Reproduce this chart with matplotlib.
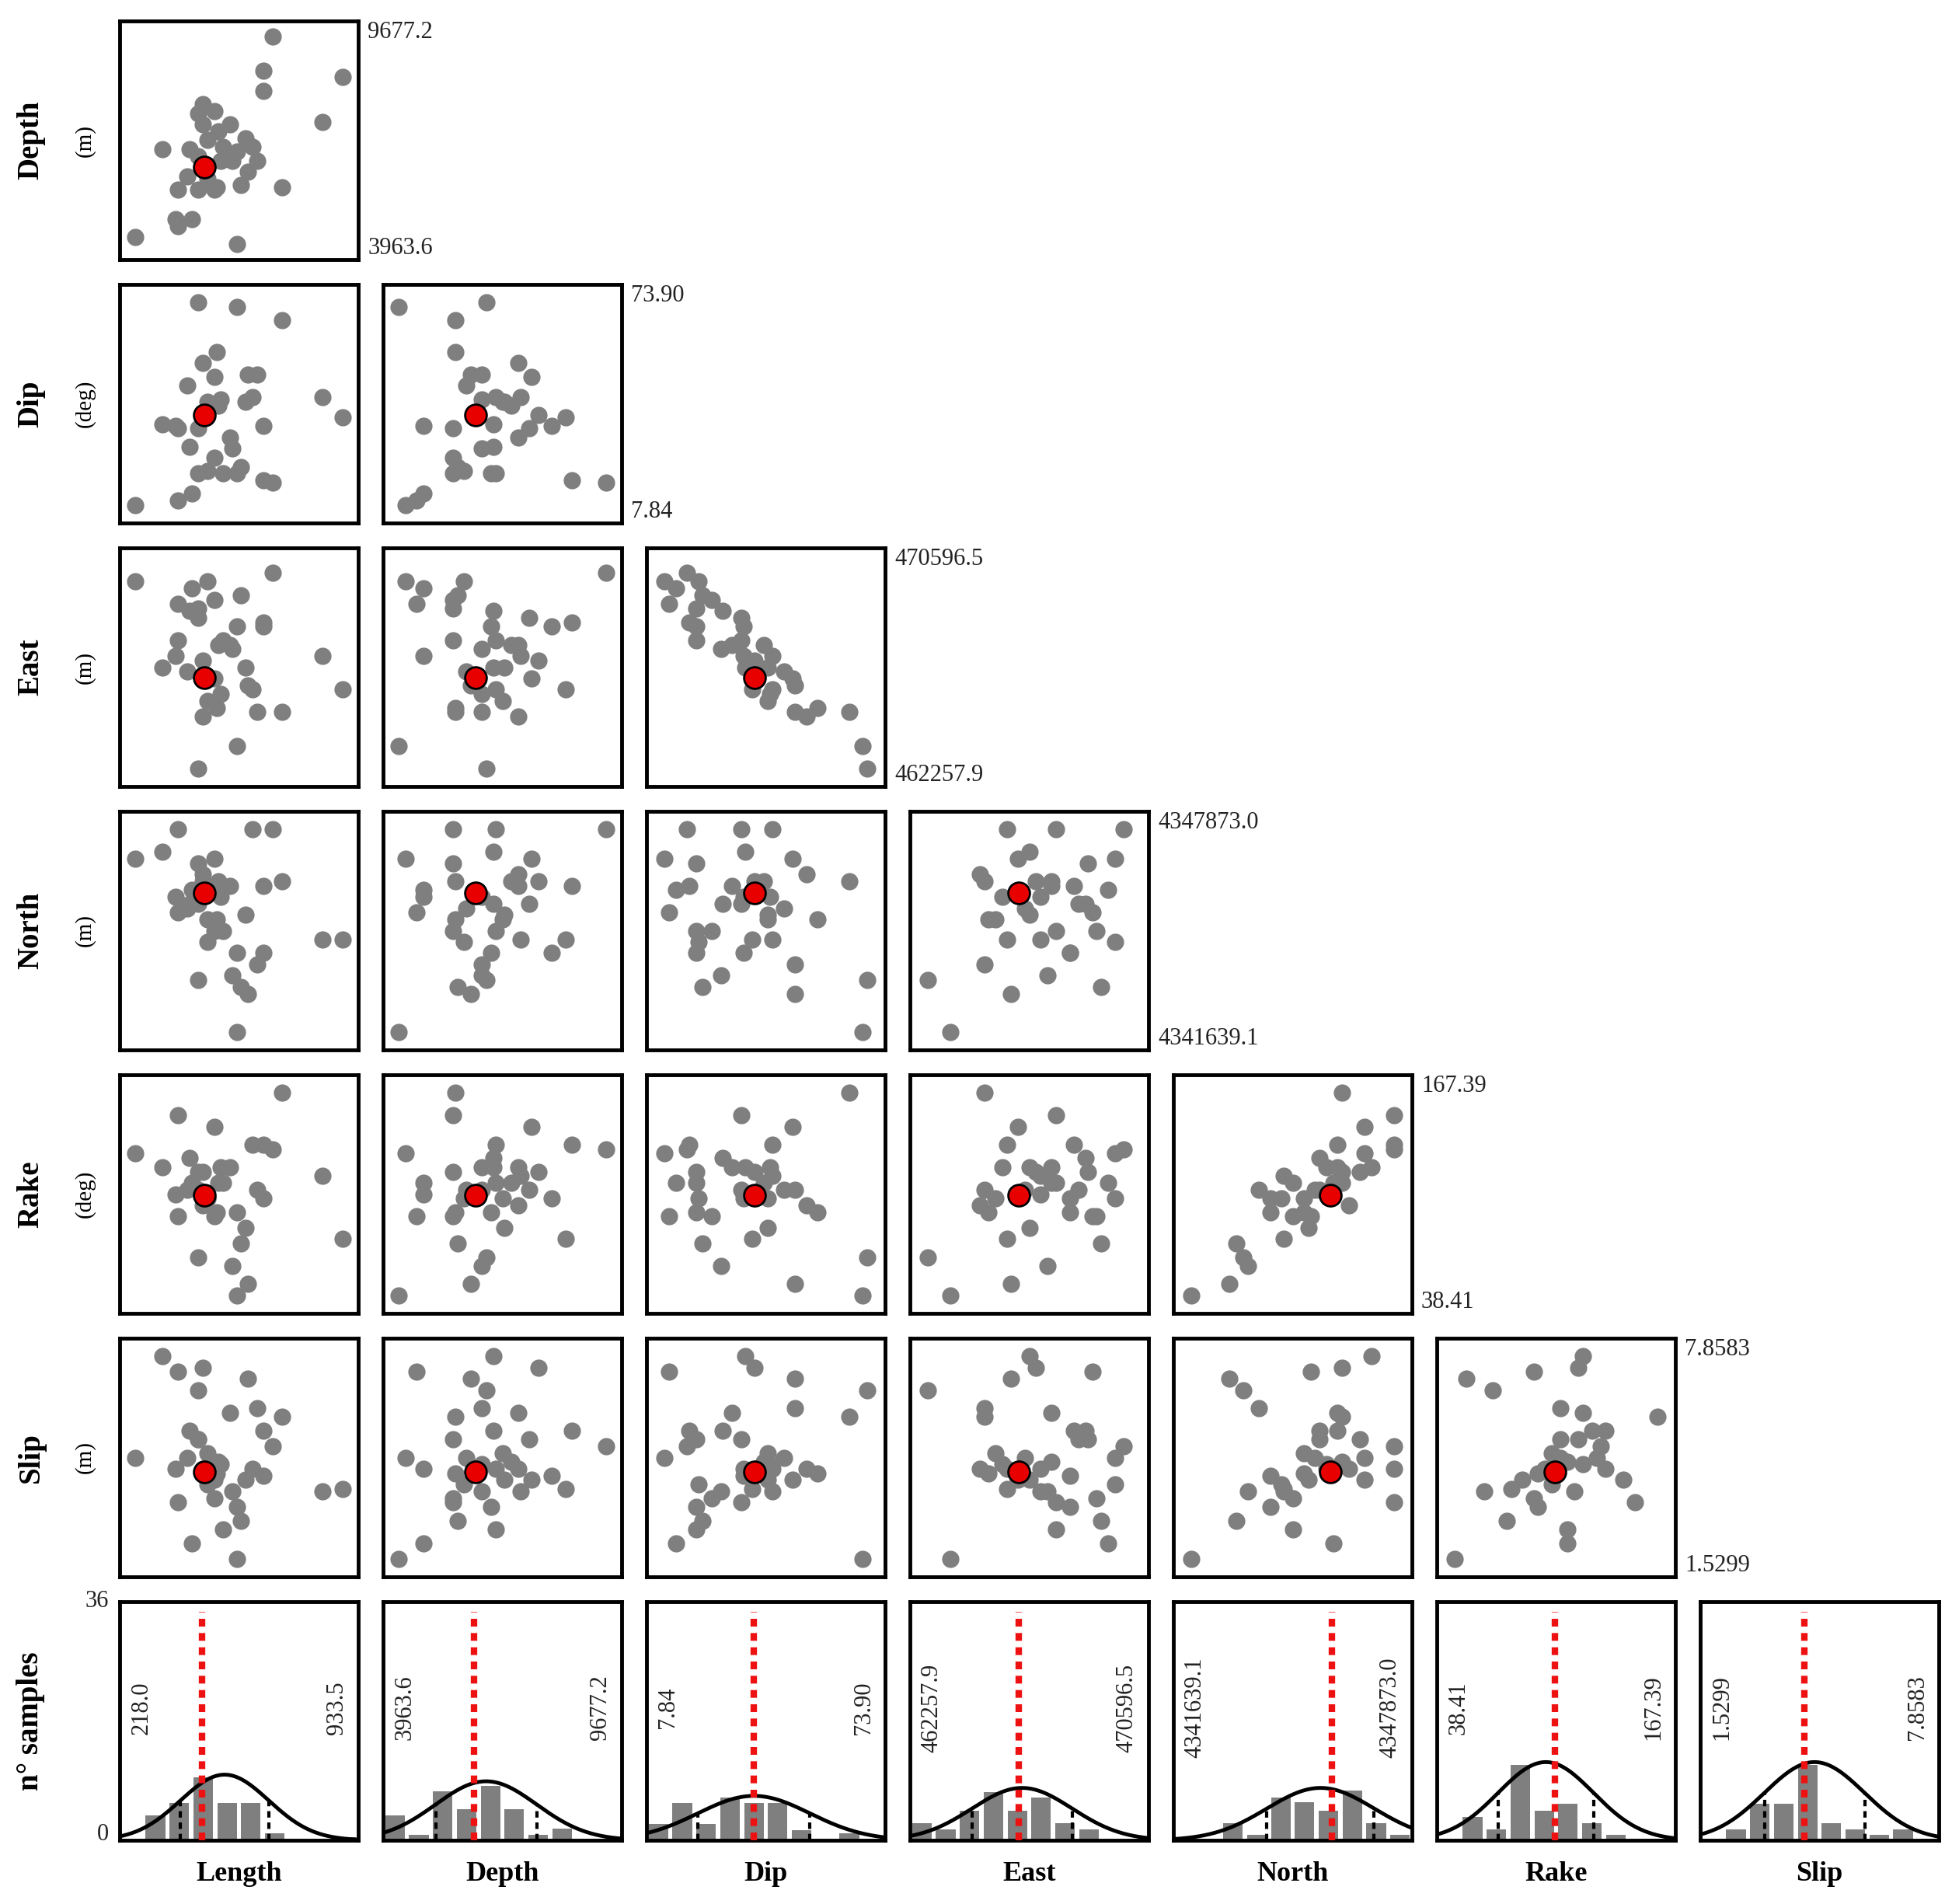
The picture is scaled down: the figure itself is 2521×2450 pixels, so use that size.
import numpy as np
import matplotlib
matplotlib.use("Agg")
import matplotlib.pyplot as plt

plt.rcParams['font.family'] = ['Liberation Serif', 'DejaVu Serif']

names = ["Length", "Depth", "Dip", "East", "North", "Rake", "Slip"]
units = ["", "(m)", "(deg)", "(m)", "(m)", "(deg)", "(m)"]
lo = [218.0, 3963.6, 7.84, 462257.9, 4341639.1, 38.41, 1.5299]
hi = [933.5, 9677.2, 73.90, 470596.5, 4347873.0, 167.39, 7.8583]
lo_lbl = ["218.0", "3963.6", "7.84", "462257.9", "4341639.1", "38.41", "1.5299"]
hi_lbl = ["933.5", "9677.2", "73.90", "470596.5", "4347873.0", "167.39", "7.8583"]

# sample positions, read as fraction of each parameter's range
length_f = [.65,.61,.61,.96,.87,.16,.32,.34,.39,.41,.36,.46,.53,.49,.58,.54,.51,.42,.23,.32,.40,.36,.69,.22,.29,.23,.04,.49,.47,.28,.43,.32,.56,.39,.27,.34]
depth_f = [.96,.81,.72,.78,.58,.46,.62,.57,.63,.54,.50,.57,.51,.45,.41,.36,.30,.41,.28,.28,.29,.33,.29,.15,.15,.12,.07,.04,.41,.46,.47,.43,.47,.28,.34,.66]
dip_f = [.15,.16,.40,.44,.53,.41,.39,.68,.62,.49,.51,.35,.51,.19,.63,.63,.22,.52,.39,.19,.73,.20,.87,.40,.10,.07,.05,.93,.30,.31,.19,.95,.53,.26,.58,.45]
east_f = [.92,.70,.68,.40,.55,.50,.72,.28,.45,.60,.35,.60,.50,.68,.30,.42,.82,.38,.62,.76,.32,.88,.30,.55,.85,.78,.88,.15,.58,.75,.62,.05,.40,.80,.48,.53]
north_f = [.95,.70,.40,.46,.46,.85,.62,.75,.82,.72,.55,.70,.57,.40,.35,.22,.25,.65,.95,.80,.55,.45,.72,.65,.68,.58,.82,.05,.30,.62,.50,.28,.95,.50,.60,.72]
rake_f = [.70,.72,.48,.30,.58,.62,.52,.45,.80,.55,.48,.62,.35,.42,.52,.10,.28,.62,.85,.60,.42,.48,.95,.50,.55,.40,.68,.05,.18,.66,.55,.22,.72,.40,.52,.60]
slip_f = [.55,.62,.42,.36,.35,.95,.58,.45,.40,.48,.52,.70,.40,.28,.72,.85,.22,.47,.30,.58,.43,.38,.68,.45,.12,.88,.50,.05,.35,.62,.18,.80,.45,.32,.50,.90]
best_f = [.345, .382, .45, .455, .666, .494, .436]

# histogram counts (10 bins) and fitted normal (mean, sigma as range fraction, peak height)
hist_length = [0, 3.7, 5.6, 9.5, 5.6, 5.6, 1.0, 0, 0, 0.5]
hist_depth = [3.7, 0.8, 7.4, 4.7, 8.2, 4.7, 0.8, 1.8, 0, 0]
hist_dip = [2.5, 5.6, 2.5, 6.5, 5.6, 5.6, 1.5, 0, 1.0, 0]
hist_east = [2.6, 1.6, 4.5, 7.3, 4.5, 6.5, 2.6, 1.6, 0, 0]
hist_north = [0, 0, 2.6, 0.8, 6.5, 5.7, 4.5, 7.5, 2.6, 0.8]
hist_rake = [0, 3.5, 1.6, 11.4, 4.5, 5.5, 2.6, 0.8, 0, 0]
hist_slip = [0, 1.6, 5.5, 5.5, 11.4, 2.6, 1.6, 0.8, 1.6, 0]
fit_mu = [.44, .432, .45, .47, .617, .457, .479]
fit_sigma = [.185, .212, .235, .21, .225, .20, .21]
fit_peak = [9.9, 8.9, 6.7, 7.9, 7.9, 11.8, 11.8]
hist_max = 36

fracs = [length_f, depth_f, dip_f, east_f, north_f, rake_f, slip_f]
hists = [hist_length, hist_depth, hist_dip, hist_east, hist_north, hist_rake, hist_slip]

def real(i, f):
    return lo[i] + np.asarray(f) * (hi[i] - lo[i])

W, H = 2521, 2450
fig = plt.figure(figsize=(W / 100, H / 100), dpi=100)

def rect(col, row):
    x0 = 154 + col * 339
    y0 = 27 + row * 339
    return [x0 / W, 1 - (y0 + 307) / H, 307 / W, 307 / H]

def frame(ax):
    ax.set_xticks([]); ax.set_yticks([])
    for s in ax.spines.values():
        s.set_linewidth(3.5); s.set_color('black')

tick_fs = 22
gray = '#7f7f7f'

# scatter panels
for r in range(1, 7):
    for c in range(r):
        ax = fig.add_axes(rect(c, r - 1))
        xs = real(c, fracs[c]); ys = real(r, fracs[r])
        ax.plot(xs, ys, 'o', color=gray, ms=16, mec='none', zorder=2)
        ax.plot(real(c, best_f[c]), real(r, best_f[r]), 'o', color='#e80000', ms=20,
                mec='black', mew=2, zorder=3)
        mx = 0.03 * (hi[c] - lo[c]); my = 0.03 * (hi[r] - lo[r])
        ax.set_xlim(lo[c] - mx, hi[c] + mx)
        ax.set_ylim(lo[r] - my, hi[r] + my)
        frame(ax)
    ax_r = rect(r - 1, r - 1)
    xr = ax_r[0] + ax_r[2] + 12 / W
    fig.text(xr, ax_r[1] + ax_r[3], hi_lbl[r], ha='left', va='top', fontsize=tick_fs, color='#222222')
    fig.text(xr, ax_r[1], lo_lbl[r], ha='left', va='bottom', fontsize=tick_fs, color='#222222')
    yc = ax_r[1] + ax_r[3] / 2
    fig.text(40 / W, yc, names[r], rotation=90, ha='center', va='center', fontsize=28, fontweight='bold')
    fig.text(109 / W, yc, units[r], rotation=90, ha='center', va='center', fontsize=21)

# histogram row
for c in range(7):
    ax = fig.add_axes(rect(c, 6))
    h = hists[c]
    bw = (hi[c] - lo[c]) / 10
    centers = lo[c] + bw * (np.arange(10) + 0.5)
    ax.bar(centers, h, width=bw * 0.82, color=gray, zorder=1)
    xx = np.linspace(lo[c], hi[c], 300)
    mu = real(c, fit_mu[c]); sd = fit_sigma[c] * (hi[c] - lo[c])
    yy = fit_peak[c] * np.exp(-0.5 * ((xx - mu) / sd) ** 2)
    ax.plot(xx, yy, color='black', lw=3.5, zorder=3)
    for s in (-1, 1):
        xv = mu + s * sd
        yv = fit_peak[c] * np.exp(-0.5)
        ax.plot([xv, xv], [0, yv], color='black', lw=3, ls=(0, (2, 1.5)), zorder=2)
    xb = real(c, best_f[c])
    ax.plot([xb, xb], [0, 34.5], color='#ee1111', lw=6, ls=(0, (1.2, 1.0)), zorder=4)
    ax.set_xlim(lo[c], hi[c]); ax.set_ylim(0, hist_max)
    ax.text(lo[c] + 0.09 * (hi[c] - lo[c]), 20, lo_lbl[c], rotation=90, ha='center', va='center',
            fontsize=tick_fs, color='#222222')
    ax.text(lo[c] + 0.91 * (hi[c] - lo[c]), 20, hi_lbl[c], rotation=90, ha='center', va='center',
            fontsize=tick_fs, color='#222222')
    frame(ax)
    rr = rect(c, 6)
    fig.text(rr[0] + rr[2] / 2, 1 - 2412 / H, names[c], ha='center', va='center', fontsize=26, fontweight='bold')

rr = rect(0, 6)
fig.text(140 / W, rr[1] + rr[3], "36", ha='right', va='center', fontsize=tick_fs, color='#222222')
fig.text(140 / W, rr[1] + 8 / H, "0", ha='right', va='center', fontsize=tick_fs, color='#222222')
fig.text(40 / W, rr[1] + rr[3] / 2, "n° samples", rotation=90, ha='center', va='center', fontsize=28, fontweight='bold')

fig.savefig("out.png", dpi=100, facecolor='white')
